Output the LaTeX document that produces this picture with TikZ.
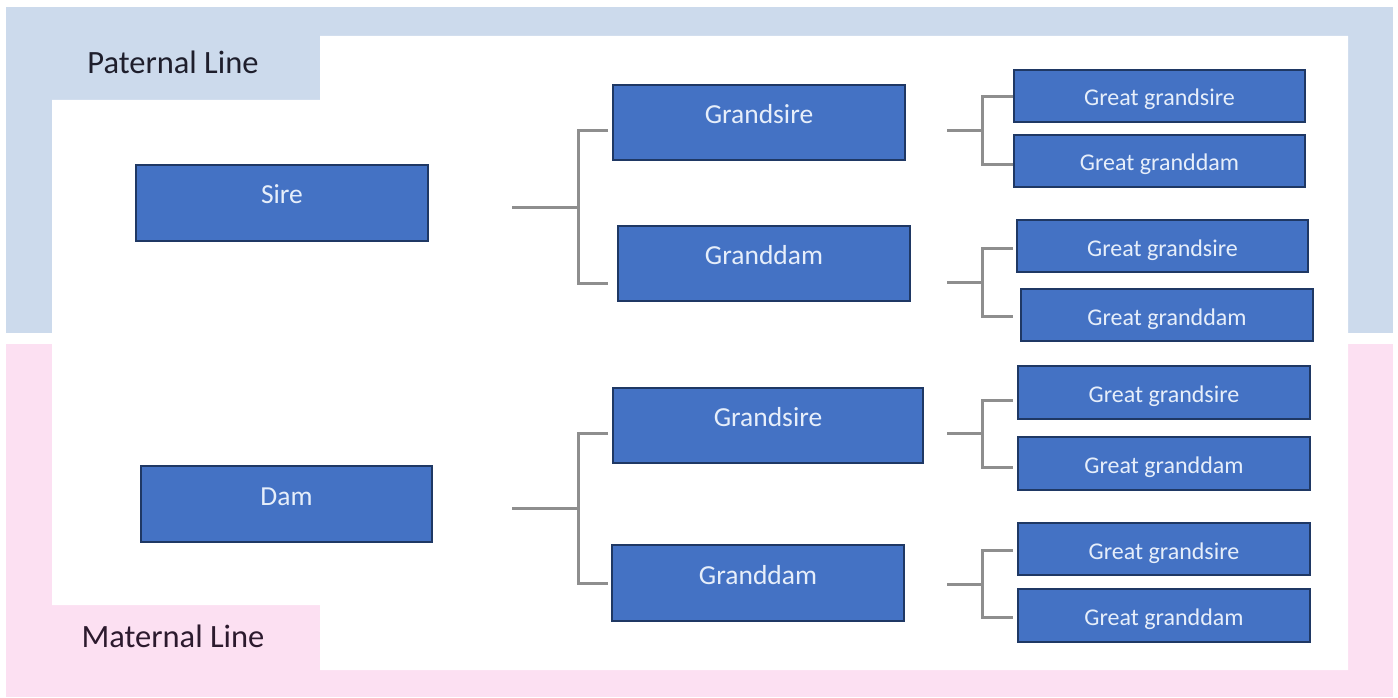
\documentclass[tikz,border=0pt]{standalone}
\usepackage{fontspec}
\setmainfont{Carlito}
\definecolor{paleblue}{HTML}{CCDAEC}
\definecolor{palepink}{HTML}{FCE0F2}
\definecolor{boxfill}{HTML}{4472C4}
\definecolor{boxedge}{HTML}{1F3864}
\definecolor{boxtext}{HTML}{E6EEFA}
\definecolor{conngray}{HTML}{8E8E8E}
\definecolor{patext}{HTML}{1E1E2C}
\definecolor{matext}{HTML}{2C1A2E}
\tikzset{
  bigbox/.style={draw=boxedge, line width=2pt, fill=boxfill, text=boxtext,
    font=\fontsize{27.5}{33}\selectfont, inner sep=0pt,
    text height=20pt, text depth=18pt, minimum height=76pt},
  smallbox/.style={draw=boxedge, line width=2pt, fill=boxfill, text=boxtext,
    font=\fontsize{24}{29}\selectfont, inner sep=0pt,
    text height=22pt, text depth=2pt, minimum height=52pt},
  conn/.style={draw=conngray, line width=3pt},
  linelabel/.style={font=\fontsize{32.5}{39}\selectfont, inner sep=0pt}
}
\begin{document}
\begin{tikzpicture}[x=1pt,y=-1pt]
\useasboundingbox (0,0) rectangle (1398,698);
% background bands
\fill[paleblue] (6,7) rectangle (1393,333);
\fill[palepink] (6,344) rectangle (1393,697);
\fill[white] (320,36) -- (1348,36) -- (1348,670) -- (320,670) -- (320,605)
  -- (52,605) -- (52,100) -- (320,100) -- cycle;
\fill[white] (6,333) rectangle (1393,344);
% line labels
\node[linelabel, text=patext] (pat) at (173,62) {Paternal Line};
\node[linelabel, text=matext] (mat) at (173,636) {Maternal Line};
% parents
\node[bigbox, minimum width=292pt] (sire) at (282,203) {Sire};
\node[bigbox, minimum width=291pt] (dam) at (286.5,504) {Dam};
% grandparents
\node[bigbox, minimum width=292pt, minimum height=75pt] (gsP) at (759,122.5) {Grandsire};
\node[bigbox, minimum width=292pt, minimum height=75pt] (gdP) at (764,263.5) {Granddam};
\node[bigbox, minimum width=310pt, minimum height=75pt] (gsM) at (768,425.5) {Grandsire};
\node[bigbox, minimum width=292pt] (gdM) at (758,583) {Granddam};
% great grandparents
\node[smallbox, minimum width=291pt] (g1) at (1159.5,96) {Great grandsire};
\node[smallbox, minimum width=291pt] (g2) at (1159.5,161) {Great granddam};
\node[smallbox, minimum width=291pt] (g3) at (1162.5,246) {Great grandsire};
\node[smallbox, minimum width=292pt] (g4) at (1167,315) {Great granddam};
\node[smallbox, minimum width=292pt, minimum height=53pt] (g5) at (1164,392.5) {Great grandsire};
\node[smallbox, minimum width=292pt, minimum height=53pt] (g6) at (1164,463.5) {Great granddam};
\node[smallbox, minimum width=292pt] (g7) at (1164,549) {Great grandsire};
\node[smallbox, minimum width=292pt, minimum height=53pt] (g8) at (1164,615.5) {Great granddam};
% bracket coordinates
\coordinate (sS) at (512,207);  \coordinate (sJ) at (578,207);
\coordinate (sA) at (608,131);  \coordinate (sB) at (608,283);
\coordinate (dS) at (512,508);  \coordinate (dJ) at (578,508);
\coordinate (dA) at (608,433);  \coordinate (dB) at (608,583);
\coordinate (b1S) at (947,131); \coordinate (b1J) at (982,131);
\coordinate (b1A) at (1013,97); \coordinate (b1B) at (1013,165);
\coordinate (b2S) at (947,282); \coordinate (b2J) at (982,282);
\coordinate (b2A) at (1013,248); \coordinate (b2B) at (1013,316);
\coordinate (b3S) at (947,433); \coordinate (b3J) at (982,433);
\coordinate (b3A) at (1013,400); \coordinate (b3B) at (1013,467);
\coordinate (b4S) at (947,584); \coordinate (b4J) at (982,584);
\coordinate (b4A) at (1013,550); \coordinate (b4B) at (1013,617);
% brackets
\foreach \b in {s,d,b1,b2,b3,b4}{
  \draw[conn] (\b S) -- (\b J);
  \draw[conn] (\b A) -| (\b J) |- (\b B);
}
\end{tikzpicture}
\end{document}
